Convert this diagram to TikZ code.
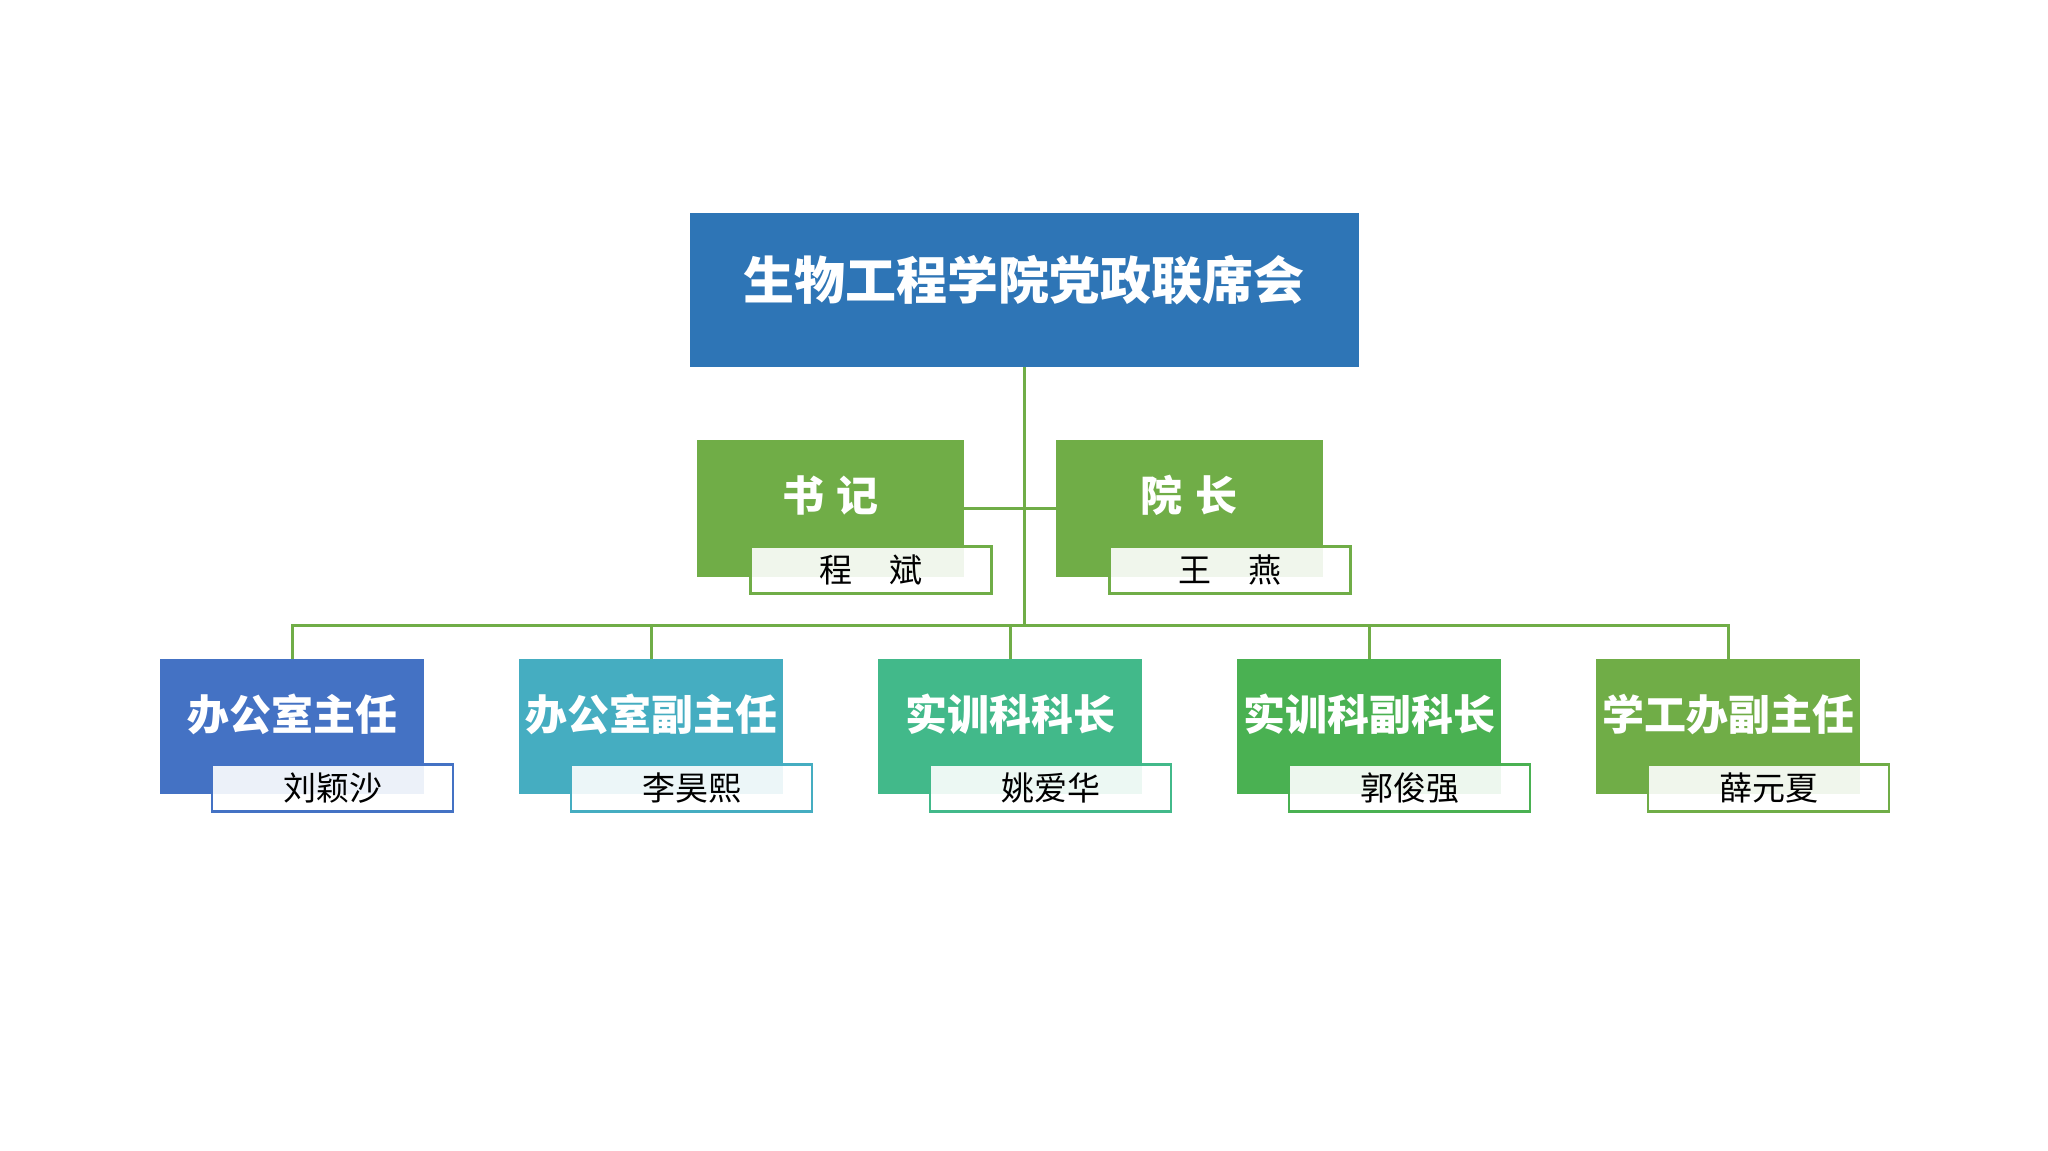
\documentclass[tikz,border=0pt]{standalone}
\usepackage{fontspec}
\newfontfamily\cjk{Noto Sans CJK SC}
\definecolor{topblue}{HTML}{2E75B6}
\definecolor{lead}{HTML}{70AD47}
\definecolor{cA}{HTML}{4472C4}
\definecolor{cB}{HTML}{45ADC1}
\definecolor{cC}{HTML}{42B98A}
\definecolor{cD}{HTML}{4AB152}
\definecolor{cE}{HTML}{70AD47}
\definecolor{linegreen}{HTML}{70AD47}
\tikzset{
  rolebox/.style={rectangle, inner sep=0pt, outer sep=0pt, minimum width=264pt, minimum height=135pt},
  leadbox/.style={rectangle, inner sep=0pt, outer sep=0pt, minimum width=267pt, minimum height=137pt, fill=lead},
  namebox/.style={rectangle, inner sep=0pt, outer sep=0pt, minimum width=241pt, minimum height=47pt, fill=white, fill opacity=0.9, text opacity=1, line width=2.6pt},
  roletxt/.style={text=white, font=\cjk\bfseries\fontsize{42}{46}\selectfont, inner sep=0pt},
  nametxt/.style={text=black, font=\cjk\fontsize{33}{36}\selectfont, inner sep=0pt},
  conn/.style={draw=linegreen, line width=3pt}
}
\begin{document}
\begin{tikzpicture}[x=1pt,y=-1pt]
\useasboundingbox (0,0) rectangle (2048,1151);
\fill[white] (0,0) rectangle (2048,1151);

% top box
\node[rectangle, inner sep=0pt, outer sep=0pt, minimum width=669pt, minimum height=154pt, fill=topblue] (top) at (1024,290) {};
\node[text=white, font=\cjk\bfseries\fontsize{51}{56}\selectfont, inner sep=0pt, yshift=10pt] (toptxt) at (top) {生物工程学院党政联席会};

\coordinate (bus) at (1024,625);

% leaders
\node[leadbox] (shuji) at (830.5,508.5) {};
\node[roletxt, yshift=13pt] (shujitxt) at (shuji) {书\hspace{0.3em}记};
\node[leadbox] (yuan) at (1189,508.5) {};
\node[roletxt, yshift=13pt] (yuantxt) at (yuan) {院\hspace{0.3em}长};

% connectors
\draw[conn] (top.south) -- (bus);
\draw[conn] (shuji.east) -- (yuan.west);

\node[namebox, draw=lead] (shujiname) at (871,570) {};
\node[nametxt] (shujinametxt) at (shujiname) {程\hspace{1.1em}斌};
\node[namebox, draw=lead] (yuanname) at (1230,570) {};
\node[nametxt] (yuannametxt) at (yuanname) {王\hspace{1.1em}燕};

% bottom row
\node[rolebox, fill=cA] (b1) at (292,726.5) {};
\node[rolebox, fill=cB] (b2) at (651,726.5) {};
\node[rolebox, fill=cC] (b3) at (1010,726.5) {};
\node[rolebox, fill=cD] (b4) at (1369,726.5) {};
\node[rolebox, fill=cE] (b5) at (1728,726.5) {};

\draw[conn] (b1.north) |- (bus) -| (b5.north);
\draw[conn] (b2.north) -- (b2.north |- bus);
\draw[conn] (b3.north) -- (b3.north |- bus);
\draw[conn] (b4.north) -- (b4.north |- bus);

\node[roletxt, yshift=12pt] (t1) at (b1) {办公室主任};
\node[roletxt, yshift=12pt] (t2) at (b2) {办公室副主任};
\node[roletxt, yshift=12pt] (t3) at (b3) {实训科科长};
\node[roletxt, yshift=12pt] (t4) at (b4) {实训科副科长};
\node[roletxt, yshift=12pt] (t5) at (b5) {学工办副主任};

\node[namebox, draw=cA] (n1) at (332.5,788) {};
\node[namebox, draw=cB] (n2) at (691.5,788) {};
\node[namebox, draw=cC] (n3) at (1050.5,788) {};
\node[namebox, draw=cD] (n4) at (1409.5,788) {};
\node[namebox, draw=cE] (n5) at (1768.5,788) {};

\node[nametxt] (m1) at (n1) {刘颖沙};
\node[nametxt] (m2) at (n2) {李昊熙};
\node[nametxt] (m3) at (n3) {姚爱华};
\node[nametxt] (m4) at (n4) {郭俊强};
\node[nametxt] (m5) at (n5) {薛元夏};
\end{tikzpicture}
\end{document}
